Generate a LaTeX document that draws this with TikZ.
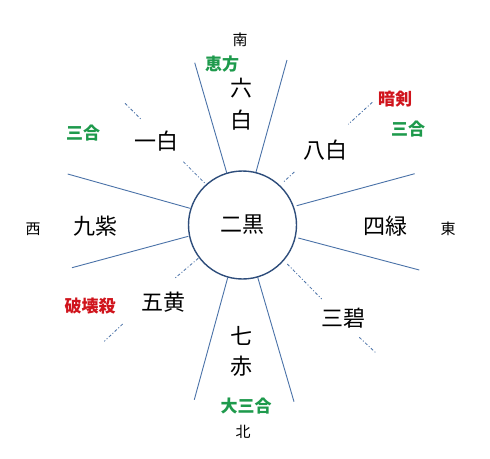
\documentclass[tikz,border=0pt]{standalone}
\usepackage{fontspec}
\setmainfont{Noto Sans CJK JP}
\definecolor{rayblue}{HTML}{4A72A8}
\definecolor{ringblue}{HTML}{2E4D7B}
\definecolor{jgreen}{HTML}{1E9A4C}
\definecolor{jred}{HTML}{D0141C}
\begin{document}
\begin{tikzpicture}[x=1pt,y=-1pt,
  ray/.style={draw=rayblue,line width=0.9pt},
  dd/.style={draw=rayblue,line width=0.8pt,dash pattern=on 3pt off 2pt on 1pt off 2pt},
  big/.style={font=\fontsize{22}{24}\selectfont,inner sep=0pt},
  dir/.style={font=\fontsize{15}{17}\selectfont,inner sep=0pt},
  grn/.style={font=\fontsize{17}{19}\selectfont\bfseries,text=jgreen,inner sep=0pt},
  rd/.style={font=\fontsize{17}{19}\selectfont\bfseries,text=jred,inner sep=0pt}]
\useasboundingbox (0,0) rectangle (490,458);
\fill[white] (0,0) rectangle (490,458);
% rays
\coordinate (r1a) at (194.7,62.7); \coordinate (r1b) at (226.7,172.7);
\coordinate (r2a) at (287,60);     \coordinate (r2b) at (256,172);
\coordinate (r3a) at (67.7,174);   \coordinate (r3b) at (190,208.3);
\coordinate (r4a) at (414.7,173.7);\coordinate (r4b) at (296.7,205.7);
\coordinate (r5a) at (72,267.7);   \coordinate (r5b) at (188.3,236.3);
\coordinate (r6a) at (419.3,270);  \coordinate (r6b) at (298.3,238);
\coordinate (r7a) at (194.3,399.7);\coordinate (r7b) at (227.7,277.7);
\coordinate (r8a) at (294,401.7);  \coordinate (r8b) at (257.7,277.3);
\foreach \i in {1,...,8} \draw[ray] (r\i a) -- (r\i b);
% dash-dot diagonals
\coordinate (d1a) at (125,103.3);  \coordinate (d1b) at (141.7,120);
\coordinate (d2a) at (183.3,161.7);\coordinate (d2b) at (205.7,184);
\coordinate (d3a) at (372.3,102.3);\coordinate (d3b) at (348.3,124.3);
\coordinate (d4a) at (294.3,172);  \coordinate (d4b) at (282.7,182.7);
\coordinate (d5a) at (198.3,258.3);\coordinate (d5b) at (174,279);
\coordinate (d6a) at (122.7,324);  \coordinate (d6b) at (104.3,341.3);
\coordinate (d7a) at (287.3,264);  \coordinate (d7b) at (321.7,299);
\coordinate (d8a) at (359.3,337.3);\coordinate (d8b) at (376,353);
\foreach \i in {1,...,8} \draw[dd] (d\i a) -- (d\i b);
% center circle
\node[circle,draw=ringblue,line width=1.4pt,fill=white,minimum size=108pt,inner sep=0pt,
  font=\fontsize{22}{24}\selectfont] (c) at (242.5,225) {二黒};
% labels
\node[dir] (s) at (240,40) {南};
\node[grn] (ehou) at (222,64) {恵方};
\node[big] (roku) at (241,88) {六};
\node[big] (rokuh) at (241,120) {白};
\node[rd] (anken) at (395,99) {暗剣};
\node[grn] (sgR) at (408,129) {三合};
\node[grn] (sgL) at (83,133) {三合};
\node[big] (ippaku) at (156,141) {一白};
\node[big] (happaku) at (325,150) {八白};
\node[dir] (w) at (33,229) {西};
\node[big] (kyushi) at (95,226) {九紫};
\node[big] (shiroku) at (385,226) {四緑};
\node[dir] (e) at (448,229) {東};
\node[rd] (hakai) at (90,306) {破壊殺};
\node[big] (goou) at (163,302) {五黄};
\node[big] (sanpeki) at (343,318) {三碧};
\node[big] (shichi) at (241,336) {七};
\node[big] (seki) at (241,366) {赤};
\node[grn] (dai) at (246,406) {大三合};
\node[dir] (n) at (243,432) {北};
\end{tikzpicture}
\end{document}
